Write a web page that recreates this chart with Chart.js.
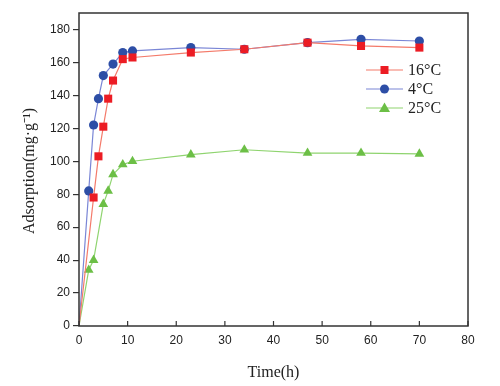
<!DOCTYPE html>
<html>
<head>
<meta charset="utf-8">
<script src="https://cdn.jsdelivr.net/npm/chart.js@4"></script>
<style>
  html, body { margin: 0; padding: 0; background: #fff; }
  #wrap { width: 500px; height: 386px; }
</style>
</head>
<body>
<div id="wrap"><canvas id="adsChart" width="500" height="386"></canvas></div>
<script>
// time (h) and adsorption (mg/g)
const time16 = [0, 3, 4, 5, 6, 7, 9, 11, 23, 34, 47, 58, 70];
const ads16  = [0, 78, 103, 121, 138, 149, 162, 163, 166, 168, 172, 170, 169];

const time4 = [0, 2, 3, 4, 5, 7, 9, 11, 23, 34, 47, 58, 70];
const ads4  = [0, 82, 122, 138, 152, 159, 166, 167, 169, 168, 172, 174, 173];

const time25 = [0, 2, 3, 5, 6, 7, 9, 11, 23, 34, 47, 58, 70];
const ads25  = [0, 34, 40, 74, 82, 92, 98, 100, 104, 107, 105, 105, 104.5];

const xTicks = [0, 10, 20, 30, 40, 50, 60, 70, 80];
const yTicks = [0, 20, 40, 60, 80, 100, 120, 140, 160, 180];

const yTitle = "Adsorption(mg·g⁻¹)";

function toPoints(xs, ys) {
  return xs.map((x, i) => ({ x: x, y: ys[i] }));
}

function series(label, xs, ys, line, fill, shape, size) {
  return {
    label: label,
    data: toPoints(xs, ys),
    showLine: true,
    borderColor: line,
    borderWidth: 1.2,
    pointStyle: shape,
    pointBackgroundColor: fill,
    pointBorderColor: fill,
    pointBorderWidth: 0,
    pointRadius: ctx => ctx.dataIndex === 0 ? 0 : size,
    tension: 0
  };
}

// frame, inward x ticks, y title and an in-plot legend
const framePlugin = {
  id: "frame",
  afterDraw(chart) {
    const c = chart.ctx;
    const a = chart.chartArea;
    const xs = chart.scales.x;
    c.save();
    c.strokeStyle = "#333";
    c.lineWidth = 1.5;
    c.strokeRect(a.left, a.top, a.right - a.left, a.bottom - a.top);
    c.lineWidth = 1.2;
    xTicks.forEach(v => {
      const px = xs.getPixelForValue(v);
      c.beginPath();
      c.moveTo(px, a.bottom);
      c.lineTo(px, a.bottom - 5);
      c.stroke();
    });

    // y axis title
    c.save();
    c.translate(30, 171);
    c.rotate(-Math.PI / 2);
    c.font = "16px 'Liberation Serif', serif";
    c.fillStyle = "#222";
    c.textAlign = "center";
    c.textBaseline = "middle";
    c.fillText(yTitle, 0, 0);
    c.restore();

    // legend
    const lx = 366, ly = 70, gap = 19;
    c.font = "16px 'Liberation Serif', serif";
    c.textBaseline = "middle";
    chart.data.datasets.forEach((ds, i) => {
      const y = ly + i * gap;
      c.strokeStyle = ds.borderColor;
      c.lineWidth = 1.2;
      c.beginPath();
      c.moveTo(lx, y);
      c.lineTo(lx + 37, y);
      c.stroke();
      c.fillStyle = ds.pointBackgroundColor;
      const mx = lx + 18.5;
      c.beginPath();
      if (ds.pointStyle === "rect") {
        c.rect(mx - 4, y - 4, 8, 8);
      } else if (ds.pointStyle === "circle") {
        c.arc(mx, y, 4.5, 0, Math.PI * 2);
      } else {
        c.moveTo(mx, y - 5.5);
        c.lineTo(mx + 5.5, y + 4);
        c.lineTo(mx - 5.5, y + 4);
        c.closePath();
      }
      c.fill();
      c.fillStyle = "#222";
      c.fillText(ds.label, lx + 42, y + 1);
    });
    c.restore();
  }
};

new Chart(document.getElementById("adsChart").getContext("2d"), {
  type: "scatter",
  data: {
    datasets: [
      series("16°C", time16, ads16, "#f47a6a", "#ec1c24", "rect", 5.7),
      series("4°C", time4, ads4, "#7a86d6", "#2d4ea6", "circle", 4.6),
      series("25°C", time25, ads25, "#8fd46f", "#6cbf46", "triangle", 5.6)
    ]
  },
  options: {
    responsive: false,
    animation: false,
    layout: { padding: { top: 13, right: 32, left: 0, bottom: 0 } },
    plugins: {
      legend: { display: false },
      tooltip: { enabled: false }
    },
    scales: {
      x: {
        type: "linear",
        min: 0,
        max: 80,
        afterBuildTicks: s => { s.ticks = xTicks.map(v => ({ value: v })); },
        afterFit: s => { s.height = 60; },
        grid: { display: false, drawTicks: false },
        border: { display: false },
        ticks: {
          padding: 7,
          color: "#222",
          font: { family: "'Liberation Sans', Arial, sans-serif", size: 12 }
        },
        title: {
          display: true,
          text: "Time(h)",
          color: "#222",
          padding: { top: 6 },
          font: { family: "'Liberation Serif', serif", size: 16 }
        }
      },
      y: {
        min: 0,
        max: 190,
        afterBuildTicks: s => { s.ticks = yTicks.map(v => ({ value: v })); },
        afterFit: s => { s.width = 79; },
        grid: { drawOnChartArea: false, tickLength: 6, color: "#333", lineWidth: 1.2 },
        border: { display: false },
        ticks: {
          padding: 3,
          color: "#222",
          font: { family: "'Liberation Sans', Arial, sans-serif", size: 12 }
        }
      }
    }
  },
  plugins: [framePlugin]
});
</script>
</body>
</html>
